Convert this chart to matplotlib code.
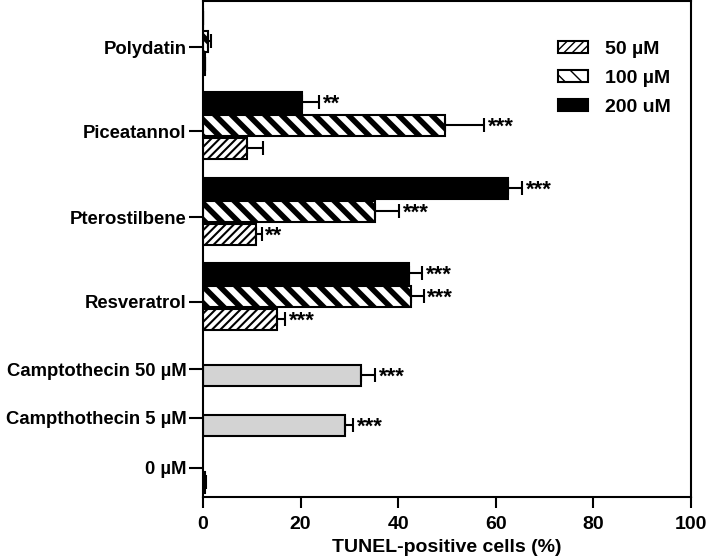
import matplotlib.pyplot as plt
import numpy as np

plt.rcParams['font.family'] = ['Liberation Sans', 'DejaVu Sans']
plt.rcParams['font.weight'] = 'bold'

# compounds, three doses each
compounds = ['Polydatin', 'Piceatannol', 'Pterostilbene', 'Resveratrol']
val_50 = [0.4, 9.0, 10.8, 15.1]
err_50 = [0.0, 3.2, 1.2, 1.7]
sig_50 = ['', '', '**', '***']
val_100 = [1.0, 49.5, 35.2, 42.6]
err_100 = [0.6, 8.1, 5.0, 2.6]
sig_100 = ['', '***', '***', '***']
val_200 = [0.0, 20.2, 62.6, 42.2]
err_200 = [0.0, 3.6, 2.7, 2.7]
sig_200 = ['', '**', '***', '***']

# controls
controls = ['Camptothecin 50 µM', 'Campthothecin 5 µM', '0 µM']
ctrl_val = [32.4, 29.1, 0.5]
ctrl_err = [2.8, 1.7, 0.2]
ctrl_sig = ['***', '***', '']

# layout (vertical positions, axis runs top->bottom)
grp_ticks = [47, 131, 217, 302]
ctrl_ticks = [369, 418, 468]
ctrl_pos = [375, 425, 482]
step = 23
h = 21

fig = plt.figure(figsize=(7.07, 5.58), dpi=100)
ax = fig.add_axes([203 / 707, 61 / 558, 488 / 707, 496 / 558])

mid = np.array(grp_ticks) - 6


def draw(pos, vals, errs, sigs, **kw):
    ax.barh(pos, vals, height=h, edgecolor='black', linewidth=1.5, **kw)
    ax.errorbar(vals, pos, xerr=[np.zeros(len(vals)), errs], fmt='none',
                ecolor='black', elinewidth=1.5, capsize=5, capthick=1.5)
    for p, v, e, s in zip(pos, vals, errs, sigs):
        if s:
            ax.text(v + e + 0.8, p + 2.5, s, va='center', ha='left',
                    fontsize=16, fontweight='bold')


with plt.rc_context({'hatch.linewidth': 1.5}):
    draw(mid + step, val_50, err_50, sig_50, color='white', hatch='////', label='50 µM')
with plt.rc_context({'hatch.linewidth': 4.0}):
    draw(mid, val_100, err_100, sig_100, color='white', hatch='\\\\', label='100 µM')
draw(mid - step, val_200, err_200, sig_200, color='black', label='200 uM')
draw(np.array(ctrl_pos), ctrl_val, ctrl_err, ctrl_sig, color='#d3d3d3')

ax.set_yticks(grp_ticks + ctrl_ticks)
ax.set_yticklabels(compounds + controls)
ax.set_ylim(497, 1)
ax.set_xlim(0, 100)
ax.set_xticks(range(0, 101, 20))
ax.set_xlabel('TUNEL-positive cells (%)', fontsize=14, fontweight='bold', labelpad=4)
ax.tick_params(axis='both', labelsize=14, width=1.5, direction='out')
ax.tick_params(axis='y', length=10, pad=2, labelsize=13.3)
ax.tick_params(axis='x', length=8, pad=6)
for s in ax.spines.values():
    s.set_linewidth(1.5)

handles, labels = ax.get_legend_handles_labels()
ax.legend(handles[:3], labels[:3], loc='upper right', bbox_to_anchor=(0.995, 0.955),
          frameon=False, fontsize=14, handlelength=1.55, handleheight=0.55,
          labelspacing=0.62, handletextpad=0.9)

fig.savefig('out.png', dpi=100)
